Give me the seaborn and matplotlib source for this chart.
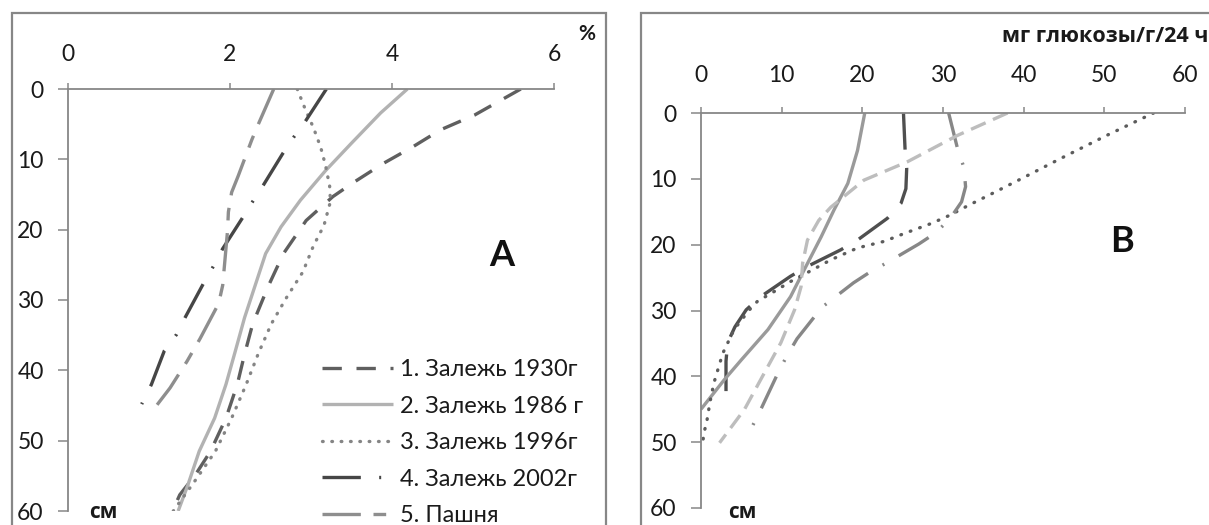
import matplotlib
matplotlib.use("Agg")
import matplotlib.pyplot as plt
import seaborn as sns
from matplotlib.patches import Rectangle

# ---------------- data ----------------
# Panel A: humus content (%) vs depth (cm)
labels = ["1. Залежь 1930г", "2. Залежь 1986 г", "3. Залежь 1996г", "4. Залежь 2002г", "5. Пашня"]

a1_depth = [0, 3.7, 5.8, 8.2, 10.6, 13.4, 15.3, 18.7, 23.4, 28.1, 33.4, 37.7, 42, 46.8, 51.5, 54.9, 57.7, 60]
a1_val = [5.59, 5.02, 4.6, 4.26, 3.89, 3.51, 3.27, 2.94, 2.66, 2.47, 2.28, 2.18, 2.09, 1.95, 1.76, 1.57, 1.38, 1.29]

a2_depth = [0, 3.4, 7.7, 11.6, 15.8, 19.6, 23.4, 28.3, 32.5, 37.5, 42, 46.8, 51.5, 56.3, 60]
a2_val = [4.19, 3.86, 3.5, 3.18, 2.87, 2.63, 2.44, 2.3, 2.18, 2.06, 1.95, 1.81, 1.62, 1.48, 1.36]

a3_depth = [0, 2.9, 5.5, 8.3, 10.9, 13.8, 16, 19.4, 22.3, 26, 29.8, 33.4, 37.6, 42, 46.8, 51.5, 56, 60]
a3_val = [2.83, 2.93, 3.03, 3.12, 3.18, 3.23, 3.24, 3.16, 3.03, 2.9, 2.69, 2.51, 2.35, 2.2, 2.02, 1.82, 1.55, 1.3]

a4_depth = [0, 4.6, 6.8, 9.2, 13.7, 16, 18.4, 22.7, 25.3, 27.7, 32.4, 34.9, 37.2, 42, 44.8]
a4_val = [3.19, 2.93, 2.79, 2.65, 2.41, 2.28, 2.15, 1.91, 1.79, 1.67, 1.45, 1.34, 1.19, 1.03, 0.91]

a5_depth = [0, 5, 7.2, 12.4, 14.7, 17.5, 20.1, 22.7, 27.9, 30.5, 35.5, 38.7, 42.5, 44.9]
a5_val = [2.54, 2.35, 2.27, 2.1, 2.02, 1.98, 1.97, 1.95, 1.91, 1.86, 1.63, 1.47, 1.26, 1.1]

# Panel B: enzyme activity (mg glucose/g/24 h) vs depth (cm)
b1_depth = [0, 5.6, 8.4, 11.5, 13.7, 16, 19.3, 20.8, 23.3, 24.8, 27.9, 29.9, 32.5, 34.9, 37.7, 43.5]
b1_val = [25.1, 25.3, 25.5, 25.4, 24.8, 23.1, 19.4, 17.3, 13.2, 11.1, 7.4, 5.6, 4.2, 3.3, 3.1, 3.1]

b2_depth = [0, 5.7, 10.7, 14.7, 18.8, 23.8, 27.9, 32.9, 37.5, 40.5, 45]
b2_val = [20.3, 19.4, 18.2, 16.5, 14.9, 12.8, 11.1, 8.3, 5.0, 2.9, 0]

b3_depth = [0, 3.4, 6.9, 9.8, 12.6, 14, 15.5, 16.8, 18.3, 19.5, 20.5, 22.3, 24.1, 25.6, 27.1, 28.6, 29.9, 32.9, 36.5, 41, 44, 47, 48.4, 50.1]
b3_val = [56.1, 50.3, 44.6, 40, 35.5, 33.2, 30.9, 28.5, 25.2, 22.7, 19.4, 16.1, 13.4, 11.1, 9.1, 7, 6, 4.1, 2.7, 1.6, 1.1, 0.7, 0.4, 0.2]

b4_depth = [0, 5.4, 8.3, 11.2, 13.5, 16, 18.2, 19.9, 22.7, 24.2, 25.8, 29.5, 34.3, 37, 39.6, 44.8, 47.5]
b4_val = [30.7, 31.8, 32.6, 32.8, 32.3, 30.9, 29.1, 27, 23.1, 20.9, 18.9, 15, 11.9, 10.6, 9.5, 7.5, 6.4]

b5_depth = [0, 3.4, 7.4, 10.2, 12.7, 14.3, 16.3, 19.3, 22.8, 26.4, 29.9, 34.9, 40.5, 45, 50.1]
b5_val = [38, 31.8, 25.6, 20.2, 17.7, 16.1, 14.6, 13.2, 12.6, 12.4, 11.6, 9.9, 7.4, 5.4, 2.3]

a_ticks = [0, 2, 4, 6]
b_ticks = [0, 10, 20, 30, 40, 50, 60]
depth_ticks = [0, 10, 20, 30, 40, 50, 60]

# ---------------- style ----------------
sns.set_style("white")
plt.rcParams["font.family"] = ["Lato", "Open Sans", "DejaVu Sans"]

W, H = 1209, 525
fig = plt.figure(figsize=(W / 100, H / 100), dpi=100)
fig.patch.set_facecolor("white")

def px_rect(l, t, r, b):
    return [l / W, 1 - b / H, (r - l) / W, (b - t) / H]

SP = "#878787"
LW = 2.4
TICK_FS = 16.5

# frames
fig.patches.append(Rectangle((12 / W, -0.1), (606 - 12) / W, 1.1 - 13 / H, transform=fig.transFigure,
                             fill=False, edgecolor=SP, linewidth=1.6))
fig.patches.append(Rectangle((641 / W, -0.1), 0.9, 1.1 - 13 / H, transform=fig.transFigure,
                             fill=False, edgecolor=SP, linewidth=1.6))

axA = fig.add_axes(px_rect(68, 89, 554, 511))
axB = fig.add_axes(px_rect(701, 113, 1185, 508))

def style_axis(ax, xmax, xticks, xpad):
    ax.set_xlim(0, xmax)
    ax.set_ylim(60, 0)
    ax.set_facecolor("none")
    for s in ["right", "bottom"]:
        ax.spines[s].set_visible(False)
    for s in ["top", "left"]:
        ax.spines[s].set_color(SP)
        ax.spines[s].set_linewidth(1.3)
    ax.xaxis.tick_top()
    ax.set_xticks(xticks)
    ax.set_yticks(depth_ticks)
    ax.tick_params(axis="x", which="both", top=True, bottom=False, direction="out", length=4.5,
                   width=1.1, color=SP, pad=xpad, labelsize=TICK_FS, labelcolor="#1a1a1a")
    ax.tick_params(axis="y", which="both", left=True, direction="out", length=7, width=1.1,
                   color=SP, pad=10.5, labelsize=TICK_FS, labelcolor="#1a1a1a")
    ax.set_xlabel("")
    ax.set_ylabel("")
    ax.grid(False)

def draw(ax, xs, ys, color, dashes, label=None, cap="butt"):
    sns.lineplot(x=xs, y=ys, sort=False, estimator=None, color=color, linewidth=LW,
                 ax=ax, label=label, legend=False)
    ln = ax.lines[-1]
    if dashes is not None:
        ln.set_dashes(dashes)
    ln.set_dash_capstyle(cap)
    ln.set_solid_capstyle("butt")
    return ln

# Panel A
lA = []
lA.append(draw(axA, a1_val, a1_depth, "#5f5f5f", (5.8, 4.4), labels[0]))
lA.append(draw(axA, a2_val, a2_depth, "#b2b2b2", None, labels[1]))
lA.append(draw(axA, a3_val, a3_depth, "#858585", (0.2, 2.6), labels[2], cap="round"))
lA.append(draw(axA, a4_val, a4_depth, "#464646", (11.5, 5.5, 0.6, 5.5), labels[3]))
lA.append(draw(axA, a5_val, a5_depth, "#8e8e8e", (11.5, 3.8, 3.8, 3.8), labels[4]))
style_axis(axA, 6, a_ticks, 13)

# Panel B
draw(axB, b1_val, b1_depth, "#4f4f4f", (11, 5.5))
draw(axB, b2_val, b2_depth, "#9a9a9a", None)
draw(axB, b3_val, b3_depth, "#5c5c5c", (0.2, 2.8), cap="round")
draw(axB, b4_val, b4_depth, "#878787", (10.5, 5, 0.6, 5))
draw(axB, b5_val, b5_depth, "#bdbdbd", (4.8, 2.4))
style_axis(axB, 60, b_ticks, 15)

# legend
LEG_FS = 17
leg = fig.legend(handles=lA, labels=labels, loc="upper left",
                 bbox_to_anchor=(322 / W, 1 - 359 / H), frameon=False,
                 fontsize=LEG_FS, handlelength=3.0, handletextpad=0.3,
                 labelspacing=0.66, borderpad=0, borderaxespad=0)
for t in leg.get_texts():
    t.set_color("#1a1a1a")

# annotations
fig.text(587 / W, 1 - 34 / H, "%", ha="center", va="center", fontsize=15, fontweight="bold", color="#1a1a1a")
fig.text(1002 / W, 1 - 37 / H, "мг глюкозы/г/24 ч", ha="left", va="center", fontsize=15.5,
         fontweight="bold", color="#1a1a1a", family=["Open Sans", "DejaVu Sans"])
fig.text(103 / W, 1 - 513 / H, "см", ha="center", va="center", fontsize=15, fontweight="bold",
         color="#1a1a1a", family=["Open Sans", "DejaVu Sans"])
fig.text(742 / W, 1 - 513 / H, "см", ha="center", va="center", fontsize=15, fontweight="bold",
         color="#1a1a1a", family=["Open Sans", "DejaVu Sans"])
fig.text(502 / W, 1 - 255 / H, "A", ha="center", va="center", fontsize=26, fontweight="bold", color="#111111")
fig.text(1122 / W, 1 - 242 / H, "B", ha="center", va="center", fontsize=26, fontweight="bold", color="#111111")

fig.savefig("out.png", dpi=100)
